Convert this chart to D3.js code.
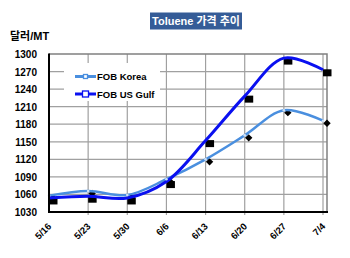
<!DOCTYPE html>
<html>
<head>
<meta charset="utf-8">
<script src="https://d3js.org/d3.v7.min.js"></script>
<style>
  body { margin: 0; background: #fff; }
  svg { display: block; font-family: Arial, "Liberation Sans", "Noto Sans CJK KR", sans-serif; }
  .tick-lbl { font-size: 10px; font-weight: bold; fill: #000; }
</style>
</head>
<body>
<svg width="350" height="258"></svg>
<script>
// data
var dates = ["5/16", "5/23", "5/30", "6/6", "6/13", "6/20", "6/27", "7/4"];
var korea = [1058, 1066, 1059, 1086, 1120, 1161, 1204, 1186];
var usGulf = [1054, 1057, 1054, 1082, 1152, 1228, 1293, 1273];
var yTicks = [1030, 1060, 1090, 1120, 1150, 1180, 1210, 1240, 1270, 1300];

var svg = d3.select("svg");

// plot area (window.top is reserved, so use other names)
var pLeft = 49, pRight = 327, pTop = 54, pBottom = 212;

var x = d3.scalePoint()
    .domain(dates)
    .range([pLeft, 323]);

var y = d3.scaleLinear()
    .domain([1030, 1300])
    .range([pBottom, pTop]);

// title box
svg.append("rect")
    .attr("x", 150).attr("y", 12.5)
    .attr("width", 92).attr("height", 17)
    .attr("fill", "#355C97");
svg.append("text")
    .attr("x", 196).attr("y", 25)
    .attr("text-anchor", "middle")
    .style("font-size", "11px")
    .style("font-weight", "bold")
    .attr("fill", "#fff")
    .text("Toluene 가격 추이");

// unit
svg.append("text")
    .attr("x", 10).attr("y", 40)
    .style("font-size", "11px")
    .style("font-weight", "bold")
    .text("달러/MT");

// grid
var g = svg.append("g");
g.selectAll(".hg")
    .data(yTicks.slice(1, -1))
    .enter().append("line")
    .attr("x1", pLeft).attr("x2", pRight)
    .attr("y1", function (d) { return y(d); })
    .attr("y2", function (d) { return y(d); })
    .attr("stroke", "#a0a0a0")
    .attr("stroke-width", 1.2);

g.selectAll(".vg")
    .data(dates.slice(1))
    .enter().append("line")
    .attr("x1", function (d) { return x(d); })
    .attr("x2", function (d) { return x(d); })
    .attr("y1", pTop).attr("y2", pBottom + 3)
    .attr("stroke", "#a0a0a0")
    .attr("stroke-width", 1.2);

// frame: top/right grey
g.append("path")
    .attr("d", "M" + pLeft + "," + pTop + "H" + pRight + "V" + pBottom)
    .attr("fill", "none")
    .attr("stroke", "#808080")
    .attr("stroke-width", 1.5);

// legend box (hides grid)
svg.append("rect")
    .attr("x", 64).attr("y", 63)
    .attr("width", 96).attr("height", 38)
    .attr("fill", "#fff");

// y labels
svg.selectAll(".ylbl")
    .data(yTicks)
    .enter().append("text")
    .attr("class", "tick-lbl")
    .attr("x", 37)
    .attr("y", function (d) { return y(d) + 4; })
    .attr("text-anchor", "end")
    .text(function (d) { return d; });

// x labels
svg.selectAll(".xlbl")
    .data(dates)
    .enter().append("text")
    .attr("class", "tick-lbl")
    .attr("text-anchor", "end")
    .attr("transform", function (d) {
        return "translate(" + (x(d) + 3) + "," + 227 + ") rotate(-45)";
    })
    .style("font-size", "9.5px")
    .text(function (d) { return d; });

// lines
var line = d3.line()
    .x(function (d, i) { return x(dates[i]); })
    .y(function (d) { return y(d); })
    .curve(d3.curveCatmullRom.alpha(0.5));

// black shadow markers
svg.selectAll(".sh-k")
    .data(korea)
    .enter().append("rect")
    .attr("x", -2.6).attr("y", -2.6)
    .attr("width", 5.2).attr("height", 5.2)
    .attr("transform", function (d, i) {
        return "translate(" + (x(dates[i]) + 4) + "," + (y(d) + 2.5) + ") rotate(45)";
    })
    .attr("fill", "#000");

svg.selectAll(".sh-u")
    .data(usGulf)
    .enter().append("rect")
    .attr("x", function (d, i) { return x(dates[i]); })
    .attr("y", function (d) { return y(d) - 0.5; })
    .attr("width", 8.5).attr("height", 7)
    .attr("fill", "#000");

svg.append("path")
    .datum(korea)
    .attr("d", line)
    .attr("fill", "none")
    .attr("stroke", "#4A8FDF")
    .attr("stroke-width", 2.5);

svg.append("path")
    .datum(usGulf)
    .attr("d", line)
    .attr("fill", "none")
    .attr("stroke", "#0A10F0")
    .attr("stroke-width", 3);

// small light markers on korea line
svg.selectAll(".mk")
    .data(korea)
    .enter().append("circle")
    .attr("cx", function (d, i) { return x(dates[i]); })
    .attr("cy", function (d) { return y(d); })
    .attr("r", 1.3)
    .attr("fill", "#cfe2f7");

// axes left/bottom black
svg.append("path")
    .attr("d", "M" + pLeft + "," + (pTop - 0.5) + "V" + pBottom + "H" + (pRight + 1))
    .attr("fill", "none")
    .attr("stroke", "#000")
    .attr("stroke-width", 2);

// legend
var legend = [
    { name: "FOB Korea", color: "#4A8FDF", w: 3, y: 76.5, sq: false },
    { name: "FOB US Gulf", color: "#0A10F0", w: 3, y: 94, sq: true }
];
var lg = svg.selectAll(".lg")
    .data(legend)
    .enter().append("g");
lg.append("line")
    .attr("x1", 75).attr("x2", 96)
    .attr("y1", function (d) { return d.y; })
    .attr("y2", function (d) { return d.y; })
    .attr("stroke", function (d) { return d.color; })
    .attr("stroke-width", function (d) { return d.w; });
lg.append("rect")
    .attr("x", function (d) { return d.sq ? 82.5 : 83.5; })
    .attr("y", function (d) { return d.sq ? d.y - 3 : d.y - 2; })
    .attr("width", function (d) { return d.sq ? 6 : 4; })
    .attr("height", function (d) { return d.sq ? 6 : 4; })
    .attr("fill", "#fff")
    .attr("stroke", function (d) { return d.color; })
    .attr("stroke-width", 1.3);
lg.append("text")
    .attr("x", 97)
    .attr("y", function (d) { return d.y + 3.5; })
    .style("font-size", "9.5px")
    .style("font-weight", "bold")
    .text(function (d) { return d.name; });
</script>
</body>
</html>
